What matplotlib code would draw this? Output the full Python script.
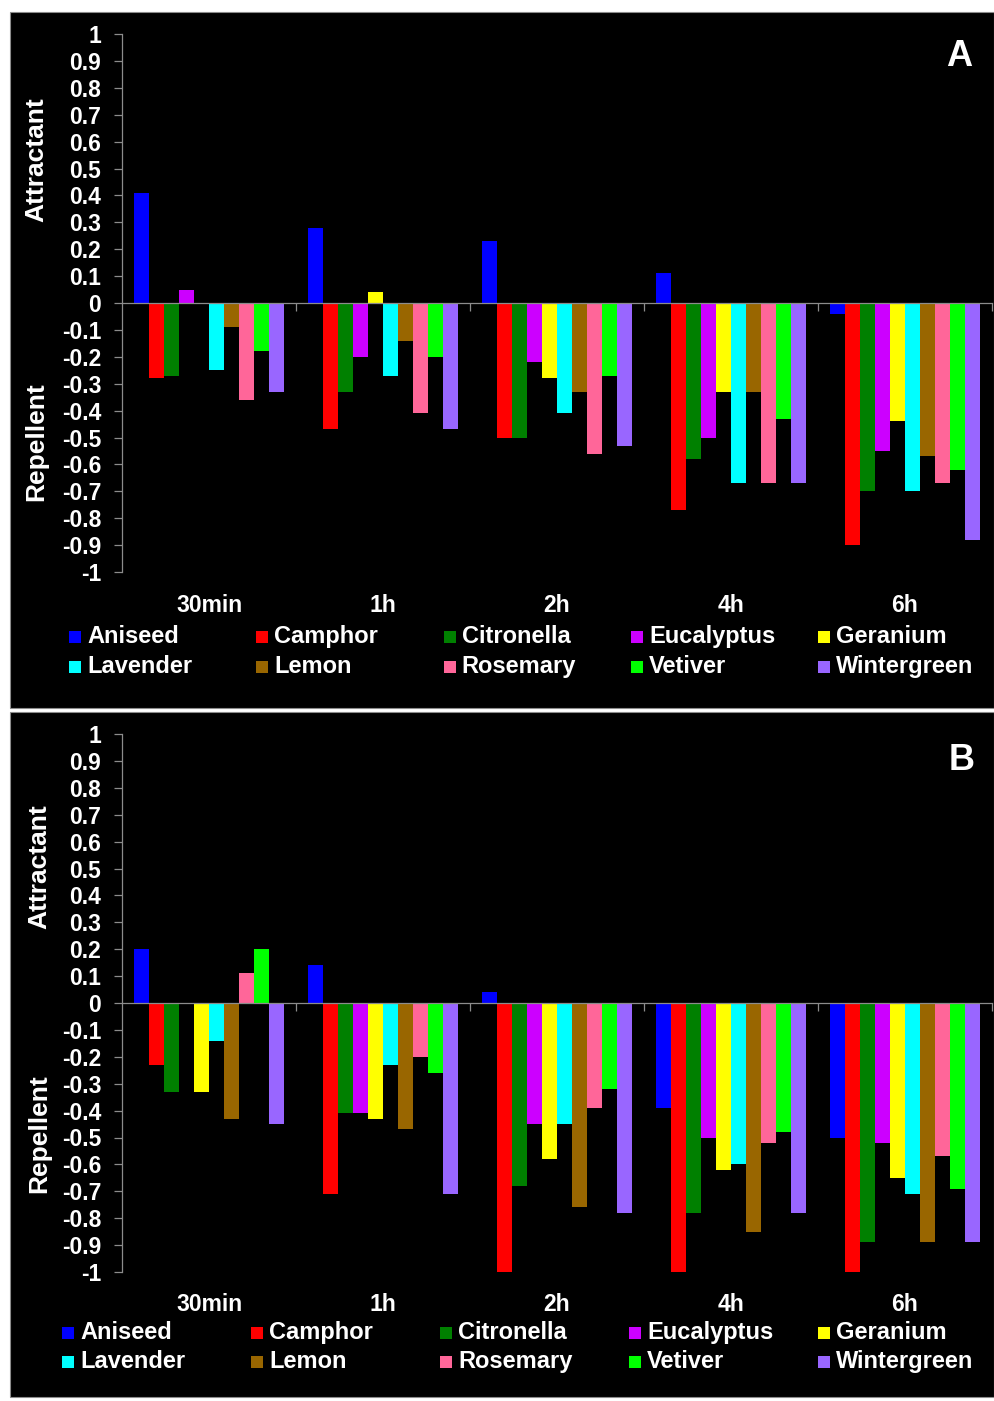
import numpy as np
import matplotlib
matplotlib.use('Agg')
import matplotlib.pyplot as plt
import matplotlib.transforms as mtransforms
from matplotlib.patches import Rectangle

plt.rcParams['font.family'] = ['Liberation Sans', 'DejaVu Sans']
plt.rcParams['font.weight'] = 'bold'

BLACK = "#000000"
WHITE = "#FFFFFF"
GRAY  = "#8C8C8C"

# ── Data ──────────────────────────────────────────────────────────────────────
TIMES = ['30min', '1h', '2h', '4h', '6h']
OILS = ['Aniseed', 'Camphor', 'Citronella', 'Eucalyptus', 'Geranium',
        'Lavender', 'Lemon', 'Rosemary', 'Vetiver', 'Wintergreen']
COLORS = ['#0000FF', '#FF0000', '#008000', '#CC00FF', '#FFFF00',
          '#00FFFF', '#996600', '#FF6699', '#00FF00', '#9966FF']

# one row per time point, oils in the order of OILS
PANEL_A = [
    [0.41, -0.28, -0.27, 0.05, 0.00, -0.25, -0.09, -0.36, -0.18, -0.33],
    [0.28, -0.47, -0.33, -0.20, 0.04, -0.27, -0.14, -0.41, -0.20, -0.47],
    [0.23, -0.50, -0.50, -0.22, -0.28, -0.41, -0.33, -0.56, -0.27, -0.53],
    [0.11, -0.77, -0.58, -0.50, -0.33, -0.67, -0.33, -0.67, -0.43, -0.67],
    [-0.04, -0.90, -0.70, -0.55, -0.44, -0.70, -0.57, -0.67, -0.62, -0.88],
]
PANEL_B = [
    [0.20, -0.23, -0.33, 0.00, -0.33, -0.14, -0.43, 0.11, 0.20, -0.45],
    [0.14, -0.71, -0.41, -0.41, -0.43, -0.23, -0.47, -0.20, -0.26, -0.71],
    [0.04, -1.00, -0.68, -0.45, -0.58, -0.45, -0.76, -0.39, -0.32, -0.78],
    [-0.39, -1.00, -0.78, -0.50, -0.62, -0.60, -0.85, -0.52, -0.48, -0.78],
    [-0.50, -1.00, -0.89, -0.52, -0.65, -0.71, -0.89, -0.57, -0.69, -0.89],
]

Y_TICKS = np.round(np.arange(-1.0, 1.001, 0.1), 1)

# ── Layout (pixels of a 994 x 1401 canvas) ────────────────────────────────────
W_PX, H_PX = 994, 1401
BAR_W = 15 / 174


def fx(px):
    return px / W_PX


def fy(py):
    return 1 - py / H_PX


fig = plt.figure(figsize=(W_PX / 100, H_PX / 100), dpi=100)
fig.patch.set_facecolor(WHITE)

PANELS = [
    # rows = legend text baselines (square bottoms sit on them)
    dict(tag='A', data=PANEL_A, top=12, bot=708, ytop=34, ybot=572,
         sq_x=69, sq_dx=187.3, rows=(643, 673), cat_base=612,
         tag_xy=(959, 56), lab_x=36, att_y=160, rep_y=442),
    dict(tag='B', data=PANEL_B, top=712, bot=1397, ytop=734, ybot=1272,
         sq_x=62, sq_dx=189.0, rows=(1339, 1368), cat_base=1311,
         tag_xy=(962, 761), lab_x=39, att_y=867, rep_y=1134),
]

for p in PANELS:
    # black panel background
    fig.add_artist(Rectangle((fx(10), fy(p['bot'])), fx(984), (p['bot'] - p['top']) / H_PX,
                             transform=fig.transFigure, facecolor=BLACK,
                             edgecolor=GRAY, lw=0.8, zorder=0))

    ax = fig.add_axes([fx(122), fy(p['ybot']), fx(870), (p['ybot'] - p['ytop']) / H_PX])
    ax.set_facecolor('none')
    ax.set_zorder(2)

    vals = np.array(p['data'])
    x = np.arange(len(TIMES))
    for j, (oil, col) in enumerate(zip(OILS, COLORS)):
        ax.bar(x + (j - 4.5) * BAR_W, vals[:, j], width=BAR_W,
               color=col, edgecolor='none', label=oil, zorder=3)

    ax.set_xlim(-0.5, len(TIMES) - 0.5)
    ax.set_ylim(-1, 1)

    for s in ('top', 'right'):
        ax.spines[s].set_visible(False)
    ax.spines['left'].set_color(GRAY)
    ax.spines['left'].set_linewidth(0.9)
    ax.spines['bottom'].set_position(('data', 0))
    ax.spines['bottom'].set_color(GRAY)
    ax.spines['bottom'].set_linewidth(0.9)
    ax.spines['bottom'].set_zorder(4)

    ax.set_yticks(Y_TICKS)
    ax.set_yticklabels(['0' if abs(v) < 1e-9 else f'{v:g}' for v in Y_TICKS])
    ax.tick_params(axis='y', colors=GRAY, labelcolor=WHITE, length=6, width=0.9,
                   direction='out', pad=9, labelsize=16.5)
    for t in ax.get_yticklabels():
        t.set_fontweight('bold')

    ax.set_xticks(x + 0.5)
    ax.set_xticklabels([])
    ax.tick_params(axis='x', colors=GRAY, length=6, width=0.9, direction='out')

    # category labels below the plot
    blend = mtransforms.blended_transform_factory(ax.transData, fig.transFigure)
    for i, t in enumerate(TIMES):
        ax.text(i, fy(p['cat_base']), t, transform=blend, ha='center', va='baseline',
                color=WHITE, fontsize=16.5, fontweight='bold')

    # side labels
    fig.text(fx(p['lab_x']), fy(p['att_y']), 'Attractant', rotation=90,
             ha='center', va='center', color=WHITE, fontsize=19, fontweight='bold')
    fig.text(fx(p['lab_x']), fy(p['rep_y']), 'Repellent', rotation=90,
             ha='center', va='center', color=WHITE, fontsize=19, fontweight='bold')

    # panel tag
    fig.text(fx(p['tag_xy'][0]), fy(p['tag_xy'][1]), p['tag'], ha='center',
             va='center', color=WHITE, fontsize=26, fontweight='bold')

    # legend: 2 rows x 5 columns, evenly spaced
    for k, (oil, col) in enumerate(zip(OILS, COLORS)):
        row, c = divmod(k, 5)
        sx = p['sq_x'] + c * p['sq_dx']
        base = p['rows'][row]
        fig.add_artist(Rectangle((fx(sx), fy(base)), fx(12), 12 / H_PX,
                                 transform=fig.transFigure, facecolor=col,
                                 edgecolor='none', zorder=3))
        fig.text(fx(sx + 18), fy(base), oil, ha='left', va='baseline',
                 color=WHITE, fontsize=17, fontweight='bold')

fig.savefig('out.png', dpi=100, facecolor=WHITE)
